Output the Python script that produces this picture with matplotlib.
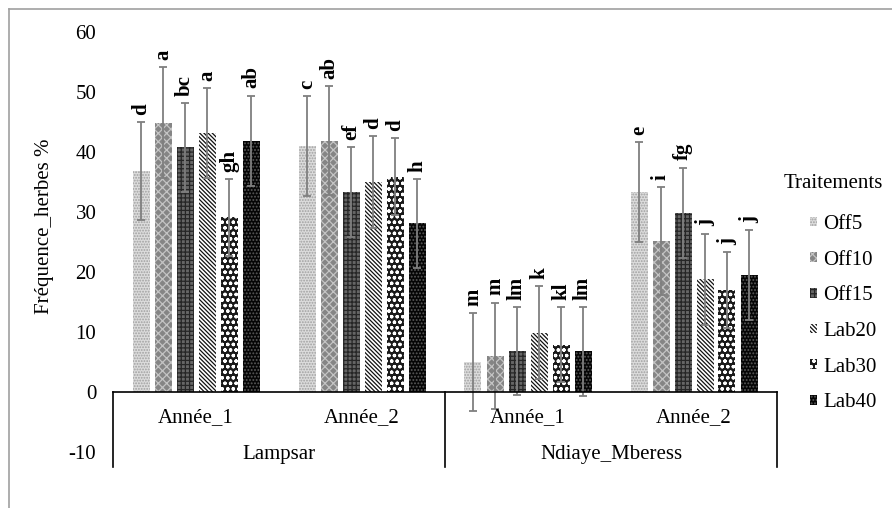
import matplotlib
matplotlib.use('Agg')
import matplotlib.pyplot as plt
import numpy as np
from matplotlib.lines import Line2D

plt.rcParams['font.family'] = ['Liberation Serif', 'DejaVu Serif']
plt.rcParams['hatch.linewidth'] = 0.9
plt.rcParams['axes.unicode_minus'] = False

# categories: Lampsar Année_1, Lampsar Année_2, Ndiaye_Mberess Année_1, Ndiaye_Mberess Année_2
sites = ['Lampsar', 'Ndiaye_Mberess']
years = ['Année_1', 'Année_2', 'Année_1', 'Année_2']
treatments = ['Off5', 'Off10', 'Off15', 'Lab20', 'Lab30', 'Lab40']

off5_mean = [36.8, 41.0, 5.0, 33.3]
off10_mean = [44.9, 41.9, 6.0, 25.2]
off15_mean = [40.8, 33.3, 6.8, 29.9]
lab20_mean = [43.1, 35.0, 9.9, 18.8]
lab30_mean = [29.1, 35.9, 7.9, 17.0]
lab40_mean = [41.9, 28.1, 6.8, 19.5]

off5_err = [8.2, 8.3, 8.1, 8.3]
off10_err = [9.2, 9.1, 8.9, 9.0]
off15_err = [7.4, 7.5, 7.3, 7.5]
lab20_err = [7.5, 7.6, 7.8, 7.6]
lab30_err = [6.4, 6.4, 6.3, 6.3]
lab40_err = [7.5, 7.4, 7.4, 7.5]

off5_letters = ['d', 'c', 'm', 'e']
off10_letters = ['a', 'ab', 'm', 'i']
off15_letters = ['bc', 'ef', 'lm', 'fg']
lab20_letters = ['a', 'd', 'k', 'j']
lab30_letters = ['gh', 'd', 'kl', 'j']
lab40_letters = ['ab', 'h', 'lm', 'j']

means = [off5_mean, off10_mean, off15_mean, lab20_mean, lab30_mean, lab40_mean]
errs = [off5_err, off10_err, off15_err, lab20_err, lab30_err, lab40_err]
letters = [off5_letters, off10_letters, off15_letters, lab20_letters, lab30_letters, lab40_letters]

# pattern fills (face, hatch colour, hatch)
styles = [
    ('#dcdcdc', '#a0a0a0', '......'),
    ('#858585', '#c4c4c4', 'xxxx'),
    ('#666666', '#262626', '++++'),
    ('#ffffff', '#111111', '\\' * 8),
    ('#1a1a1a', '#ffffff', 'ooo'),
    ('#050505', '#5a5a5a', '.....'),
]

W, H = 892, 508
fig = plt.figure(figsize=(W / 100, H / 100), dpi=100)
ax = fig.add_axes([113 / W, 56 / H, 664 / W, 420 / H])

centers = np.arange(4) + 0.5
pitch = 22 / 166
width = 17 / 166

for i, name in enumerate(treatments):
    x = centers + (i - 2.5) * pitch
    face, hc, hatch = styles[i]
    ax.bar(x, means[i], width=width, color=face, edgecolor=hc, hatch=hatch,
           linewidth=0, label=name, zorder=2)
    ax.errorbar(x, means[i], yerr=errs[i], fmt='none', ecolor='#7f7f7f',
                elinewidth=1.3, capsize=3, capthick=1.3, zorder=3)
    for xx, m, e, lt in zip(x, means[i], errs[i], letters[i]):
        ax.text(xx, m + e + 1.2, lt, rotation=90, ha='center', va='bottom',
                fontsize=15, fontweight='bold', zorder=4)

ax.set_xlim(0, 4)
ax.set_ylim(-10, 60)
ax.set_yticks(np.arange(-10, 61, 10))
ax.set_xticks([])
ax.tick_params(axis='y', length=0, pad=12, labelsize=15)
for s in ax.spines.values():
    s.set_visible(False)

# multi-level category axis
ax.plot([0, 4], [0, 0], color='black', lw=1.2, zorder=5, clip_on=False)
for xv in [0, 2, 4]:
    ax.plot([xv, xv], [0, -12.5], color='black', lw=1.2, clip_on=False)
for c, yr in zip(centers, years):
    ax.text(c, -4.3, yr, ha='center', va='center', fontsize=15)
for k, site in enumerate(sites):
    ax.text(2 * k + 1, -10.4, site, ha='center', va='center', fontsize=15)

fig.text(45 / W, 1 - 226 / H, 'Fréquence_herbes %', rotation=90,
         ha='center', va='center', fontsize=15)

fig.text(833 / W, 1 - 184 / H, 'Traitements', ha='center', va='center', fontsize=15)
leg = fig.legend(loc='upper left', bbox_to_anchor=(810 / W, 1 - 215 / H),
                 frameon=False, fontsize=15,
                 handlelength=0.35, handleheight=0.35, handletextpad=0.3,
                 labelspacing=0.8, borderpad=0, borderaxespad=0)

# chart area border (cropped)
fig.add_artist(Line2D([8.5 / W, 8.5 / W], [0, 1 - 8.5 / H], transform=fig.transFigure,
                      color='#a0a0a0', lw=1.2))
fig.add_artist(Line2D([8.5 / W, 1], [1 - 8.5 / H, 1 - 8.5 / H], transform=fig.transFigure,
                      color='#a0a0a0', lw=1.2))

fig.savefig('out.png', dpi=100)
